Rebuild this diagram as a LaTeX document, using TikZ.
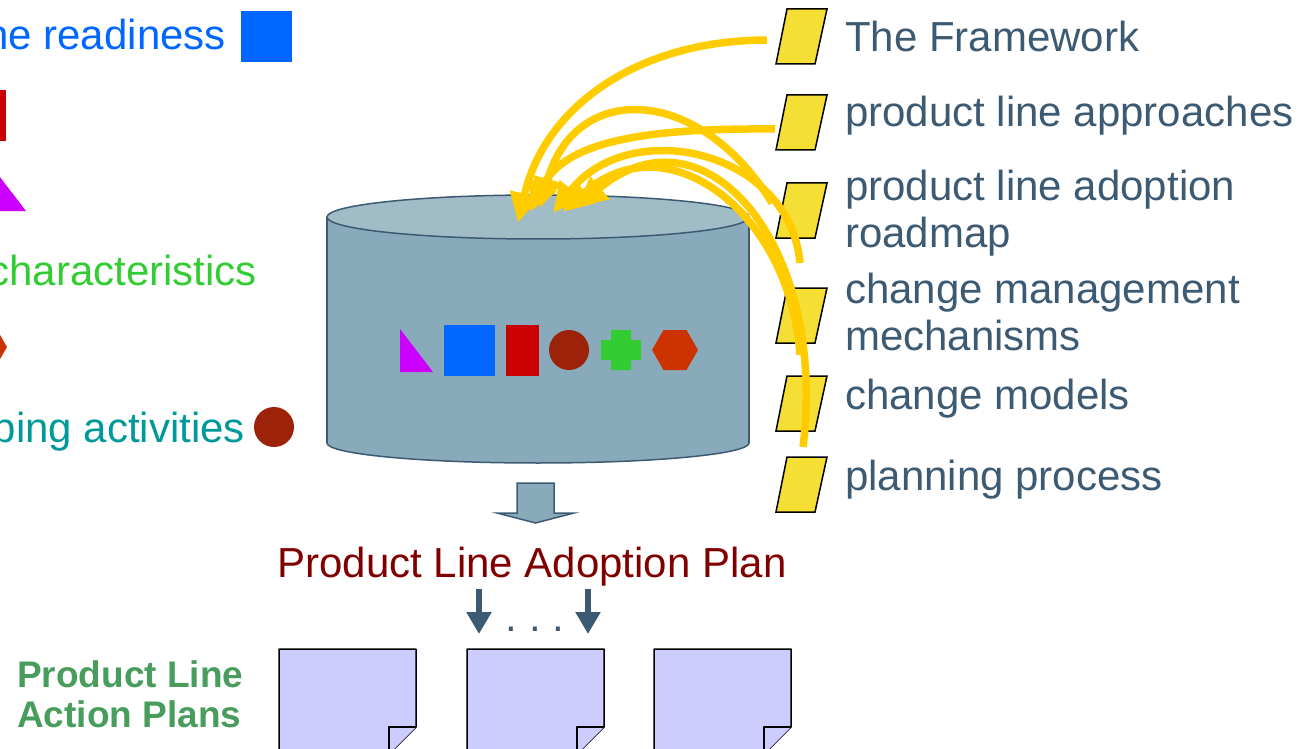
\documentclass[tikz,border=0pt]{standalone}
\usepackage{fontspec}
\setmainfont{Liberation Sans}
\usetikzlibrary{arrows.meta}
\definecolor{cylbody}{HTML}{88AABB}
\definecolor{cyltop}{HTML}{A0BCC6}
\definecolor{cylline}{HTML}{3D5A73}
\definecolor{labelc}{HTML}{3D5A73}
\definecolor{tagc}{HTML}{F5DF35}
\definecolor{feedc}{HTML}{FFCC00}
\definecolor{pagec}{HTML}{CCCCFF}
\definecolor{planc}{HTML}{800000}
\definecolor{actionc}{HTML}{489C5C}
\definecolor{shpblue}{HTML}{0066FF}
\definecolor{shpred}{HTML}{CC0000}
\definecolor{shpmag}{HTML}{CC00FF}
\definecolor{shpgreen}{HTML}{33CC33}
\definecolor{shporange}{HTML}{CC3300}
\definecolor{shpbrown}{HTML}{9C2209}
\definecolor{shpteal}{HTML}{009999}
\tikzset{
  bigfont/.style={font=\fontsize{42}{47}\selectfont},
  lbl/.style={bigfont, text=labelc, anchor=base west, align=left, inner sep=0pt},
  legend/.style={bigfont, anchor=base east, inner sep=0pt},
  tagbox/.style={draw=black, line width=1.5pt, fill=tagc},
  feedline/.style={feedc, line width=7.5pt, -{Triangle[length=30pt,width=28pt]}},
  pagebox/.style={draw=black, line width=1.5pt, fill=pagec, line join=round},
  planarrow/.style={labelc, line width=6pt, -{Triangle[length=22pt,width=24pt]}},
  cyl/.style={draw=cylline, line width=1.5pt},
}
\begin{document}
\begin{tikzpicture}[x=1pt,y=-1pt]
\useasboundingbox (0,0) rectangle (1310,749);
\clip (0,0) rectangle (1310,749);

% legend on the left, cut by the edge
\node[legend, text=shpblue] (ready) at (226,50) {ne readiness};
\fill[shpblue] (241,11) rectangle (292,62);
\fill[shpred] (-27,90) rectangle (6,141);
\fill[shpmag] (-7,168) -- (-7,211) -- (26,211) -- cycle;
\node[legend, text=shpgreen] (chars) at (257,285) {characteristics};
\node[legend, text=shpteal] (scoping) at (245,442) {ping activities};
\fill[shpbrown] (274,427) circle[radius=20];

% the repository
\filldraw[cyl, fill=cylbody] (538,443) ellipse[x radius=211, y radius=20];
\fill[cylbody] (327,217) rectangle (749,443);
\draw[cyl] (327,217) -- (327,443) (749,217) -- (749,443);
\filldraw[cyl, fill=cyltop] (538,217) ellipse[x radius=211, y radius=22];

% shapes in the repository
\fill[shpmag] (400,329) -- (400,372) -- (433,372) -- cycle;
\fill[shpblue] (444,325) rectangle (495,376);
\fill[shpred] (506,325) rectangle (539,376);
\fill[shpbrown] (569,350) circle[radius=20];
\fill[shpgreen] (611,330) rectangle (631,370) (601,340) rectangle (641,360);
\foreach \hx/\hy in {675/350,-16/347}
  \fill[shporange] ({\hx-23},\hy) -- ({\hx-11.5},{\hy-20}) -- ({\hx+11.5},{\hy-20})
    -- ({\hx+23},\hy) -- ({\hx+11.5},{\hy+20}) -- ({\hx-11.5},{\hy+20}) -- cycle;

% block arrow down
\filldraw[cyl, fill=cylbody] (517,483) -- (554,483) -- (554,513) -- (574,513)
  -- (535.5,523) -- (497,513) -- (517,513) -- cycle;

% the plan and its action plans
\node[bigfont, text=planc, anchor=base] (plan) at (532,577) {Product Line Adoption Plan};
\coordinate (out1) at (479,589);
\coordinate (out2) at (588,589);
\coordinate (in1) at (479,634);
\coordinate (in2) at (588,634);
\draw[planarrow] (out1) -- (in1);
\draw[planarrow] (out2) -- (in2);
\node[bigfont, text=labelc, anchor=base] (dots) at (535,631) {.\ .\ .};
\foreach \px in {279,467,654} {
  \draw[pagebox] (\px,649) -- ++(137,0) -- ++(0,78) -- ++(-27,27) -- ++(-110,0) -- cycle;
  \draw[pagebox] ({\px+110},754) -- ++(0,-27) -- ++(27,0);
}
\node[font=\bfseries\fontsize{37}{40}\selectfont, text=actionc, anchor=base west,
  align=left, inner sep=0pt] (action) at (17,727) {Product Line\\Action Plans};

% the inputs
\foreach \t in {9,95,183,288,376,457}
  \draw[tagbox] (787,\t) -- (827,\t) -- (815,{\t+55}) -- (776,{\t+55}) -- cycle;
\coordinate (fromfw) at (767,40);
\coordinate (fromapp) at (775,129);
\coordinate (fromroad) at (772,203);
\coordinate (frommech) at (800,263);
\coordinate (frommod) at (800,355);
\coordinate (fromproc) at (803,447);
\coordinate (intoA) at (518,223);
\coordinate (intoB) at (530,212);
\coordinate (intoC) at (540,208);
\coordinate (intoD) at (553,213);
\coordinate (intoE) at (563,212);
\coordinate (intoF) at (577,207);
\draw[feedline] (fromfw) .. controls (640,40) and (545,105) .. (intoA);
\draw[feedline] (fromapp) .. controls (650,128) and (565,140) .. (intoB);
\draw[feedline] (fromroad) .. controls (700,85) and (575,80) .. (intoC);
\draw[feedline] (frommech) .. controls (790,150) and (630,115) .. (intoD);
\draw[feedline] (frommod) .. controls (790,210) and (665,120) .. (intoE);
\draw[feedline] (fromproc) .. controls (828,245) and (705,100) .. (intoF);

\node[lbl] (fw) at (845,52) {The Framework};
\node[lbl] (app) at (845,127) {product line approaches};
\node[lbl] (road) at (845,247) {product line adoption\\roadmap};
\node[lbl] (mech) at (845,350) {change management\\mechanisms};
\node[lbl] (mod) at (845,409) {change models};
\node[lbl] (proc) at (845,490) {planning process};
\end{tikzpicture}
\end{document}
